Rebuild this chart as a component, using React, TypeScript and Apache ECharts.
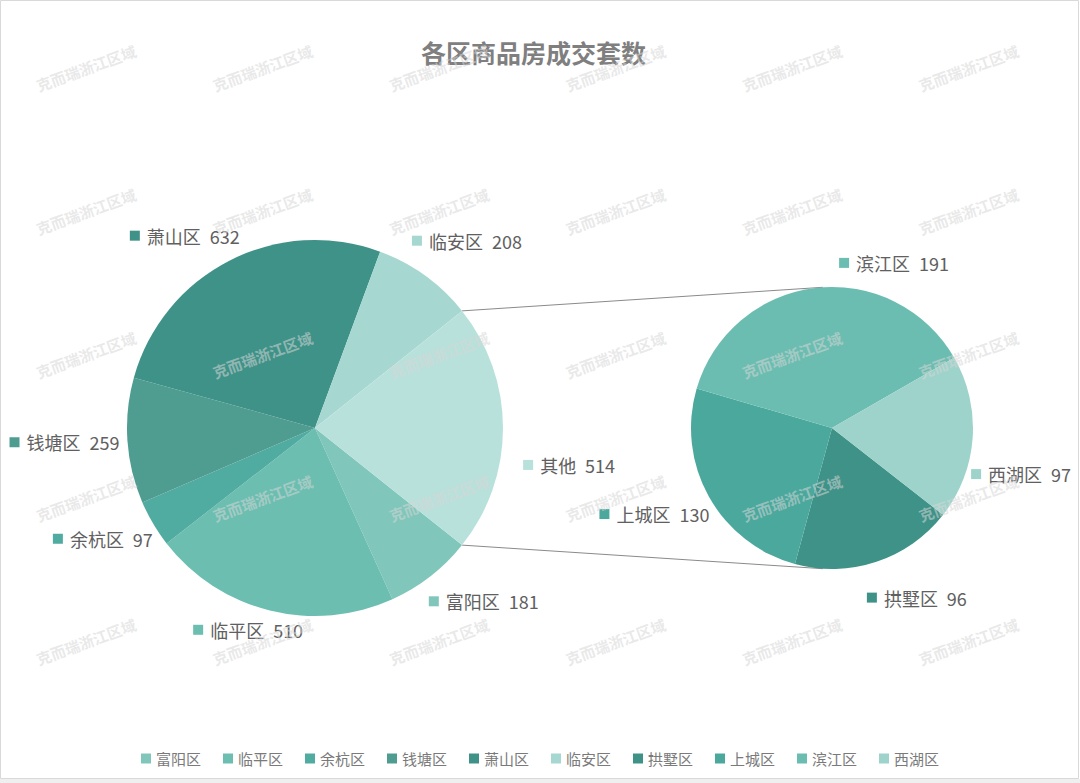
import React, { useEffect, useRef } from "react";
import * as echarts from "echarts";

// ---------- data ----------
const TITLE = "各区商品房成交套数";
const WATERMARK = "克而瑞浙江区域";
const mainNames = ["富阳区", "临平区", "余杭区", "钱塘区", "萧山区", "临安区", "其他"];
const mainValues = [181, 510, 97, 259, 632, 208, 514];
const subNames = ["拱墅区", "上城区", "滨江区", "西湖区"];
const subValues = [96, 130, 191, 97];
const legendNames = [...mainNames.slice(0, 6), ...subNames];

// ---------- style ----------
const mainColors = ["#80c6bb", "#6cbeb1", "#50aba1", "#4f9c91", "#3f9288", "#a6d7d0", "#b9e1dc"];
const subColors = ["#3f9288", "#4ba89d", "#6cbdb1", "#9dd3cb"];
const FONT = "Noto Sans CJK SC";
const W = 1080;
const H = 783;
const MAIN_C = [315, 428];
const MAIN_R = 188;
const SUB_C = [832, 428];
const SUB_R = 141;
const SUB_START = -38;
const LABEL_DY = -1.5;
// label placement relative to slice bisector (Excel "best fit" look)
const mainLabelShift = [6.1, -4.3, -2.7, -0.3, 7.2, -3.4, -8.6];
const mainLabelExtra = [55, 26, 52, 63, 43, 52, 69];
const subLabelShift = [8, -3, -27.6, -10.1];
const subLabelExtra = [50, 57, 34, 54];

const sum = (a: number[]) => a.reduce((s, v) => s + v, 0);
const rad = (d: number) => (d * Math.PI) / 180;

function midAngles(values: number[], start: number) {
  const t = sum(values);
  let c = 0;
  return values.map((v) => {
    const m = start - ((c + v / 2) / t) * 360;
    c += v;
    return m;
  });
}

function tangentPoint(px: number, py: number, cx: number, cy: number, r: number, upper: boolean) {
  const dx = cx - px;
  const dy = cy - py;
  const D = Math.hypot(dx, dy);
  const phi = Math.atan2(dy, dx);
  const a = Math.asin(r / D);
  const th = upper ? phi - a : phi + a;
  const L = Math.sqrt(D * D - r * r);
  return [px + L * Math.cos(th), py + L * Math.sin(th)];
}

function buildRich(colors: string[], textColor: string) {
  const rich: any = {
    n: { fontSize: 18, color: textColor, fontFamily: FONT, padding: [0, 0, 0, 7] },
    v: { fontSize: 18, color: textColor, fontFamily: FONT, padding: [0, 0, 0, 9] },
  };
  colors.forEach((c, i) => {
    rich["s" + i] = { width: 10, height: 10, backgroundColor: c };
  });
  return rich;
}

export default function App() {
  const ref = useRef<HTMLDivElement>(null);

  useEffect(() => {
    document.body.style.margin = "0";
    if (!ref.current) return;
    const chart = echarts.init(ref.current, undefined, { renderer: "svg" });

    const otherIdx = mainNames.indexOf("其他");
    const mainTotal = sum(mainValues);
    const otherHalf = (mainValues[otherIdx] / mainTotal) * 180;
    const mainStart = -otherHalf;
    const mainMid = midAngles(mainValues, mainStart);
    const subMid = midAngles(subValues, SUB_START);

    const pTop = [MAIN_C[0] + MAIN_R * Math.cos(rad(otherHalf)), MAIN_C[1] - MAIN_R * Math.sin(rad(otherHalf))];
    const pBot = [MAIN_C[0] + MAIN_R * Math.cos(rad(otherHalf)), MAIN_C[1] + MAIN_R * Math.sin(rad(otherHalf))];
    const tTop = tangentPoint(pTop[0], pTop[1], SUB_C[0], SUB_C[1], SUB_R, true);
    const tBot = tangentPoint(pBot[0], pBot[1], SUB_C[0], SUB_C[1], SUB_R, false);

    const labelColor = "#606060";

    const marks: any[] = [];
    const wmX0 = 86, wmDX = 176.5, wmY0 = 68, wmDY = 143.4;
    for (let r = 0; r < 5; r++) {
      for (let c = 0; c < 6; c++) {
        marks.push({
          type: "text",
          x: wmX0 + c * wmDX,
          y: wmY0 + r * wmDY,
          rotation: 0.35,
          z: 100,
          silent: true,
          style: {
            text: WATERMARK,
            fill: "rgba(214,214,214,0.55)",
            font: `bold 15px "${FONT}"`,
            align: "center",
            verticalAlign: "middle",
          },
        });
      }
    }

    const makeLayout = (center: number[], radius: number, mids: number[], shift: number[], extra: number[]) =>
      (p: any) => {
        const i = p.dataIndex;
        const a = rad(mids[i] + shift[i]);
        const d = radius + extra[i];
        return {
          x: center[0] + d * Math.cos(a),
          y: center[1] - d * Math.sin(a) + LABEL_DY,
          align: "center",
          verticalAlign: "middle",
        };
      };

    const option: any = {
      animation: false,
      backgroundColor: "#ffffff",
      title: {
        text: TITLE,
        left: 416,
        top: 34,
        textStyle: { fontSize: 25, fontWeight: "bold", color: "#7f7f7f", fontFamily: FONT },
      },
      legend: {
        data: legendNames,
        top: 746,
        left: "center",
        icon: "rect",
        itemWidth: 10,
        itemHeight: 10,
        itemGap: 22,
        selectedMode: false,
        textStyle: { fontSize: 15, color: "#7a7a7a", fontFamily: FONT },
      },
      graphic: [
        {
          type: "rect",
          z: 0,
          shape: { x: 0.5, y: 0.5, width: W - 2, height: 778 },
          style: { fill: "none", stroke: "#d9d9d9", lineWidth: 1 },
        },
        {
          type: "rect",
          z: 0,
          shape: { x: 0, y: 779, width: W, height: H - 779 },
          style: { fill: "#efefef" },
        },
        {
          type: "line",
          z: 1,
          shape: { x1: pTop[0], y1: pTop[1], x2: tTop[0], y2: tTop[1] },
          style: { stroke: "#8a8a8a", lineWidth: 1 },
        },
        {
          type: "line",
          z: 1,
          shape: { x1: pBot[0], y1: pBot[1], x2: tBot[0], y2: tBot[1] },
          style: { stroke: "#8a8a8a", lineWidth: 1 },
        },
        ...marks,
      ],
      series: [
        {
          type: "pie",
          name: "main",
          center: MAIN_C,
          radius: MAIN_R,
          startAngle: mainStart,
          clockwise: true,
          avoidLabelOverlap: false,
          emphasis: { disabled: true },
          itemStyle: { borderWidth: 0 },
          labelLine: { show: false },
          label: {
            show: true,
            position: "outside",
            formatter: (p: any) => `{s${p.dataIndex}|}{n|${p.name}}{v|${p.value}}`,
            rich: buildRich(mainColors, labelColor),
          },
          labelLayout: makeLayout(MAIN_C, MAIN_R, mainMid, mainLabelShift, mainLabelExtra),
          data: mainNames.map((n, i) => ({
            name: n,
            value: mainValues[i],
            itemStyle: { color: mainColors[i] },
          })),
        },
        {
          type: "pie",
          name: "sub",
          center: SUB_C,
          radius: SUB_R,
          startAngle: SUB_START,
          clockwise: true,
          avoidLabelOverlap: false,
          emphasis: { disabled: true },
          itemStyle: { borderWidth: 0 },
          labelLine: { show: false },
          label: {
            show: true,
            position: "outside",
            formatter: (p: any) => `{s${p.dataIndex}|}{n|${p.name}}{v|${p.value}}`,
            rich: buildRich(subColors, labelColor),
          },
          labelLayout: makeLayout(SUB_C, SUB_R, subMid, subLabelShift, subLabelExtra),
          data: subNames.map((n, i) => ({
            name: n,
            value: subValues[i],
            itemStyle: { color: subColors[i] },
          })),
        },
      ],
    };

    chart.setOption(option);
    return () => chart.dispose();
  }, []);

  return <div ref={ref} style={{ width: W, height: H }} />;
}
